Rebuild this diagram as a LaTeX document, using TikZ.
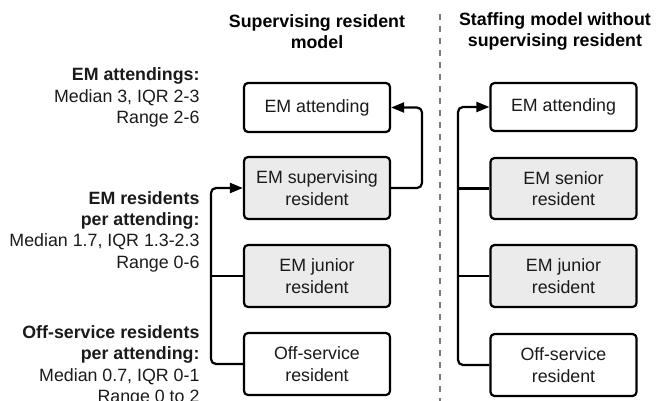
\documentclass[tikz,border=0pt]{standalone}
\usepackage{fontspec}
\setmainfont{Liberation Sans}
\usetikzlibrary{arrows.meta}
\definecolor{boxgray}{HTML}{EBEBEB}
\definecolor{dashgray}{HTML}{7A7A7A}
\definecolor{txt}{HTML}{1A1A1A}
\tikzset{
  base/.style={font=\fontsize{17.8pt}{21.3pt}\selectfont, text=txt},
  box/.style={base, draw=black, line width=2.2pt, rounded corners=4pt, align=center, minimum width=146pt, inner sep=0pt},
  whitebox/.style={box, fill=white},
  graybox/.style={box, fill=boxgray},
  conn/.style={line width=2.2pt, rounded corners=5pt, draw=black},
  arr/.style={conn, -{Triangle[length=13pt,width=10pt]}},
  title/.style={base, font=\fontsize{17.8pt}{21pt}\selectfont\bfseries, align=center, text=black},
  note/.style={base, align=right, anchor=east},
}
\begin{document}
\begin{tikzpicture}[x=1pt,y=-1pt]
\useasboundingbox (0,0) rectangle (656,401);
% titles
\node[title] (t1) at (317,31.5) {Supervising resident\\model};
\node[title] (t2) at (555,31.5) {Staffing model without\\supervising resident};
% separator
\coordinate (sepTop) at (440,14);
\coordinate (sepBot) at (440,401);
\draw[dashgray, line width=2pt, dash pattern=on 6pt off 6pt] (sepTop) -- (sepBot);
% left boxes
\node[whitebox, minimum height=49pt] (att) at (317,107.5) {EM attending};
\node[graybox, minimum height=62pt] (sup) at (317,188) {EM supervising\\resident};
\node[graybox, minimum height=62pt] (jun) at (317,276) {EM junior\\resident};
\node[whitebox, minimum height=62pt] (off) at (317,364) {Off-service\\resident};
% right boxes
\node[whitebox, minimum height=48pt] (ratt) at (563.5,107) {EM attending};
\node[graybox, minimum height=61pt] (rsen) at (563.5,188.5) {EM senior\\resident};
\node[graybox, minimum height=62pt] (rjun) at (563.5,276) {EM junior\\resident};
\node[whitebox, minimum height=62pt] (roff) at (563.5,365) {Off-service\\resident};
% buses
\coordinate (lbus) at (211,0);
\coordinate (sbus) at (422,0);
\coordinate (rbus) at (458,0);
% left connectors
\draw[arr] (off.west) -| (lbus |- sup.west) -- (sup.west);
\draw[conn] (jun.west) -- (lbus |- jun.west);
\draw[arr] (sup.east) -| (sbus |- att.east) -- (att.east);
% right connectors
\draw[arr] (roff.west) -| (rbus |- ratt.west) -- (ratt.west);
\draw[conn] (rsen.west) -- (rbus |- rsen.west);
\draw[conn] (rjun.west) -- (rbus |- rjun.west);
% notes
\node[note] (n1) at (203,97.5) {\textbf{EM attendings:}\\Median 3, IQR 2-3\\Range 2-6};
\node[note] (n2) at (203,231.5) {\textbf{EM residents}\\\textbf{per attending:}\\Median 1.7, IQR 1.3-2.3\\Range 0-6};
\node[note] (n3) at (203,366) {\textbf{Off-service residents}\\\textbf{per attending:}\\Median 0.7, IQR 0-1\\Range 0 to 2};
\end{tikzpicture}
\end{document}
